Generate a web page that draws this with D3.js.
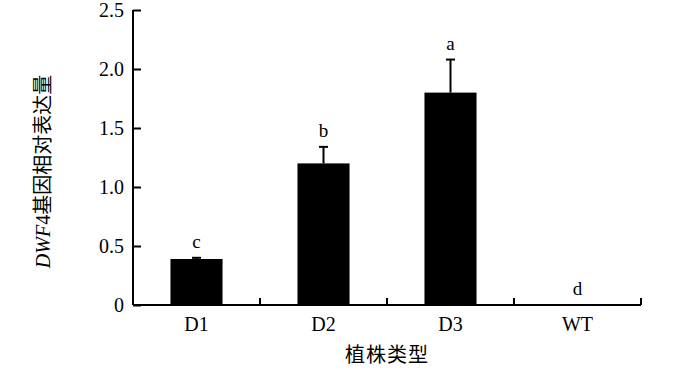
<!DOCTYPE html>
<html><head><meta charset="utf-8">
<script src="https://cdn.jsdelivr.net/npm/d3@7"></script>
<style>body{margin:0;background:#fff}svg{display:block}</style>
</head><body>
<script>
const categories = ["D1", "D2", "D3", "WT"];
const values = [0.39, 1.20, 1.80, 0.0];
const errors = [0.01, 0.14, 0.28, 0.0];
const letters = ["c", "b", "a", "d"];
const yTicks = [0, 0.5, 1.0, 1.5, 2.0, 2.5];
const yTickLabels = ["0", "0.5", "1.0", "1.5", "2.0", "2.5"];

const W = 700, H = 370;
const m = {left: 133, right: 59, top: 10, bottom: 65};
const svg = d3.select("body").append("svg").attr("width", W).attr("height", H);

const x = d3.scaleBand().domain(categories).range([m.left, W - m.right]).padding(0);
const y = d3.scaleLinear().domain([0, 2.5]).range([H - m.bottom, m.top]);
const barW = x.bandwidth() * 0.41;
const serif = "'Liberation Serif','Times New Roman',serif";
const cjk = "'Noto Sans CJK SC',sans-serif";

const g = svg.append("g");
// bars
g.selectAll("rect.bar").data(categories).join("rect")
  .attr("x", (d) => x(d) + x.bandwidth() / 2 - barW / 2)
  .attr("y", (d, i) => y(values[i]))
  .attr("width", barW)
  .attr("height", (d, i) => y(0) - y(values[i]))
  .attr("fill", "#000");
// error bars
categories.forEach((c, i) => {
  if (errors[i] <= 0) return;
  const cx = x(c) + x.bandwidth() / 2;
  g.append("line").attr("x1", cx).attr("x2", cx)
    .attr("y1", y(values[i])).attr("y2", y(values[i] + errors[i]))
    .attr("stroke", "#000").attr("stroke-width", 2);
  g.append("line").attr("x1", cx - 4.5).attr("x2", cx + 4.5)
    .attr("y1", y(values[i] + errors[i])).attr("y2", y(values[i] + errors[i]))
    .attr("stroke", "#000").attr("stroke-width", 2);
});
// letters
g.selectAll("text.lt").data(categories).join("text")
  .attr("x", (d) => x(d) + x.bandwidth() / 2)
  .attr("y", (d, i) => y(values[i] + errors[i]) - 10)
  .attr("text-anchor", "middle")
  .style("font-family", serif).style("font-size", "19px")
  .text((d, i) => letters[i]);

// y axis
const yAxis = d3.axisLeft(y).tickValues(yTicks).tickSize(-8).tickPadding(9)
  .tickFormat((d, i) => yTickLabels[i]);
const ya = svg.append("g").attr("transform", `translate(${m.left},0)`).call(yAxis);
ya.select(".domain").attr("stroke-width", 2).attr("d", `M0,${y(2.5)}V${y(0)}`);
ya.selectAll(".tick line").attr("stroke-width", 2);
ya.selectAll(".tick text").style("font-family", serif).style("font-size", "20px").attr("fill", "#000");

// x axis
const bounds = categories.map(c => x(c)).concat([x(categories[categories.length - 1]) + x.bandwidth()]);
const xa = svg.append("g").attr("transform", `translate(0,${y(0)})`);
xa.append("line").attr("x1", m.left).attr("x2", W - m.right).attr("y1", 0).attr("y2", 0)
  .attr("stroke", "#000").attr("stroke-width", 2);
xa.selectAll("line.tk").data(bounds.slice(1)).join("line")
  .attr("x1", d => d).attr("x2", d => d).attr("y1", 0).attr("y2", -7)
  .attr("stroke", "#000").attr("stroke-width", 2);
xa.selectAll("text.cat").data(categories).join("text")
  .attr("x", d => x(d) + x.bandwidth() / 2).attr("y", 26)
  .attr("text-anchor", "middle")
  .style("font-family", serif).style("font-size", "20px")
  .text(d => d);

// axis titles
svg.append("text").attr("x", (m.left + W - m.right) / 2).attr("y", 362)
  .attr("text-anchor", "middle")
  .style("font-family", cjk).style("font-size", "20px").style("letter-spacing", "1px")
  .text("植株类型");
const yl = svg.append("text")
  .attr("transform", `translate(50,${(y(0) + y(2.5)) / 2 + 14}) rotate(-90)`)
  .attr("text-anchor", "middle")
  .style("font-size", "20px");
yl.append("tspan").style("font-family", serif).style("font-style", "italic").text("DWF");
yl.append("tspan").style("font-family", serif).text("4");
yl.append("tspan").style("font-family", cjk).text("基因相对表达量");
</script>
</body></html>
